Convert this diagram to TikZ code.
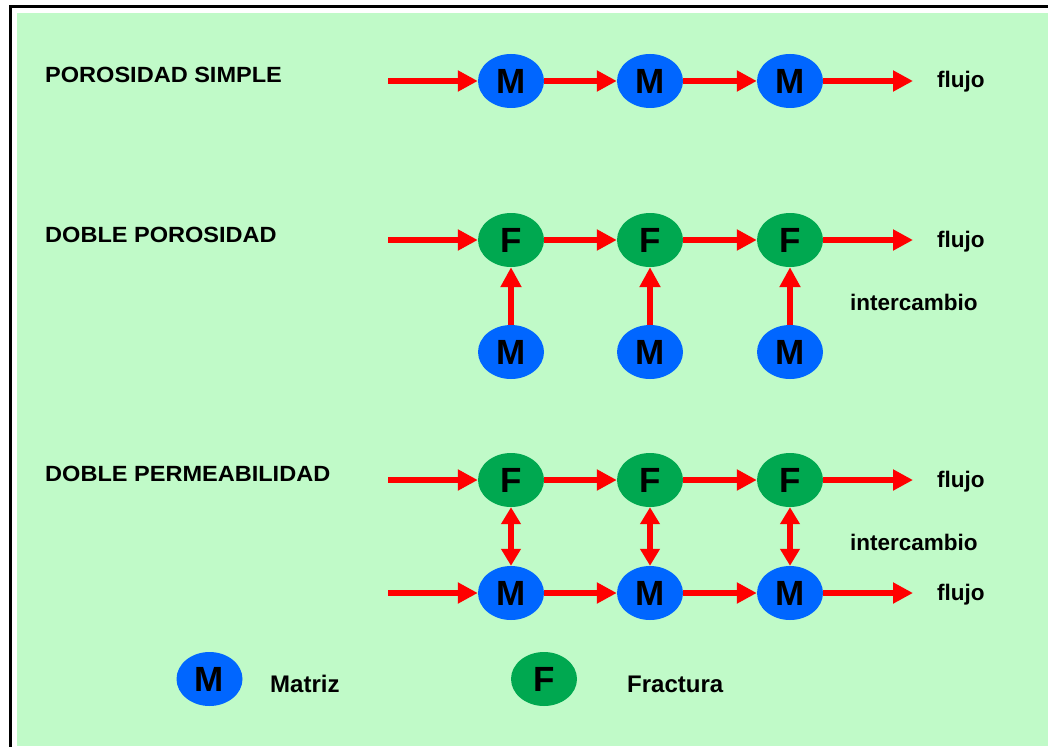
\documentclass[tikz,border=0pt]{standalone}
\usepackage{fontspec}
\setmainfont{Liberation Sans}
\newfontfamily\widefont{Liberation Sans}[FakeStretch=1.07]
\usetikzlibrary{shapes.geometric,arrows.meta}
\definecolor{bgmint}{RGB}{192,250,200}
\definecolor{mblue}{RGB}{0,102,255}
\definecolor{fgreen}{RGB}{0,168,80}
\begin{document}
\begin{tikzpicture}[x=1pt,y=-1pt,
  cell/.style={ellipse, minimum width=66pt, minimum height=54pt, inner sep=0pt,
    font=\fontsize{35}{35}\selectfont\bfseries, text=black},
  mat/.style={cell, fill=mblue},
  fra/.style={cell, fill=fgreen},
  flow/.style={red, line width=5.5pt, -{Triangle[length=20pt,width=20pt]}},
  both/.style={red, line width=5.5pt, {Triangle[length=17pt,width=19pt]}-{Triangle[length=17pt,width=19pt]}},
  title/.style={anchor=base west, inner sep=0pt, font=\widefont\fontsize{22}{22}\selectfont\bfseries},
  lab/.style={anchor=base west, inner sep=0pt, font=\fontsize{22.5}{22.5}\selectfont\bfseries},
  leg/.style={anchor=base west, inner sep=0pt, font=\fontsize{24}{24}\selectfont\bfseries}]
\useasboundingbox (0,0) rectangle (1048,746);
\fill[white] (0,0) rectangle (1048,746);
\fill[bgmint] (17,13) rectangle (1048,746);
\draw[black, line width=3pt] (10.5,6.5) rectangle (1070,770);

% titles
\node[title] (t1) at (45,83) {POROSIDAD SIMPLE};
\node[title] (t2) at (45,242) {DOBLE POROSIDAD};
\node[title] (t3) at (45,481) {DOBLE PERMEABILIDAD};

% row 1
\coordinate (a0) at (388,81);
\node[mat] (a1) at (511,81) {M};
\node[mat] (a2) at (650,81) {M};
\node[mat] (a3) at (790,81) {M};
\coordinate (a4) at (913,81);
\draw[flow] (a0) -- (a1);
\draw[flow] (a1) -- (a2);
\draw[flow] (a2) -- (a3);
\draw[flow] (a3) -- (a4);
\node[lab] (fl1) at (937,88) {flujo};

% row 2
\coordinate (b0) at (388,240);
\node[fra] (b1) at (511,240) {F};
\node[fra] (b2) at (650,240) {F};
\node[fra] (b3) at (790,240) {F};
\coordinate (b4) at (913,240);
\node[mat] (c1) at (511,352) {M};
\node[mat] (c2) at (650,352) {M};
\node[mat] (c3) at (790,352) {M};
\draw[flow] (b0) -- (b1);
\draw[flow] (b1) -- (b2);
\draw[flow] (b2) -- (b3);
\draw[flow] (b3) -- (b4);
\draw[flow] (c1) -- (b1);
\draw[flow] (c2) -- (b2);
\draw[flow] (c3) -- (b3);
\node[lab] (fl2) at (937,247) {flujo};
\node[lab] (ic2) at (850,310) {intercambio};

% row 3
\coordinate (d0) at (388,480);
\node[fra] (d1) at (511,480) {F};
\node[fra] (d2) at (650,480) {F};
\node[fra] (d3) at (790,480) {F};
\coordinate (d4) at (913,480);
\coordinate (e0) at (388,593);
\node[mat] (e1) at (511,593) {M};
\node[mat] (e2) at (650,593) {M};
\node[mat] (e3) at (790,593) {M};
\coordinate (e4) at (913,593);
\draw[flow] (d0) -- (d1);
\draw[flow] (d1) -- (d2);
\draw[flow] (d2) -- (d3);
\draw[flow] (d3) -- (d4);
\draw[flow] (e0) -- (e1);
\draw[flow] (e1) -- (e2);
\draw[flow] (e2) -- (e3);
\draw[flow] (e3) -- (e4);
\draw[both] (d1) -- (e1);
\draw[both] (d2) -- (e2);
\draw[both] (d3) -- (e3);
\node[lab] (fl3) at (937,487) {flujo};
\node[lab] (ic3) at (850,550) {intercambio};
\node[lab] (fl4) at (937,600) {flujo};

% legend
\node[mat] (lm) at (209.5,679) {M};
\node[leg] (lmt) at (270,692) {Matriz};
\node[fra] (lf) at (544,679) {F};
\node[leg] (lft) at (627,692) {Fractura};
\end{tikzpicture}
\end{document}
